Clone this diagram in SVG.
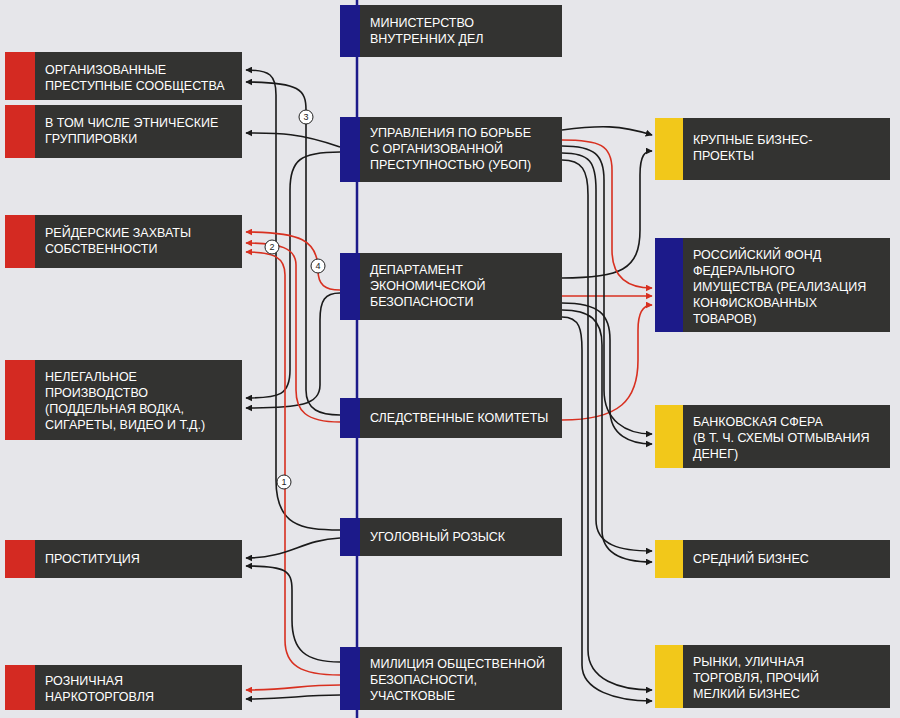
<svg xmlns="http://www.w3.org/2000/svg" width="900" height="718" viewBox="0 0 900 718">
<style>
.b{fill:#333331}.rs{fill:#d42a22}.bs{fill:#1c1a8a}.ys{fill:#f2c81a}
text{font-family:"Liberation Sans",Arial,sans-serif;font-size:12.5px;fill:#fff}
.k{fill:none;stroke:#1a1a1a;stroke-width:1.6}.r{fill:none;stroke:#d83020;stroke-width:1.6}
.c circle{fill:#fff;stroke:#222;stroke-width:1}.c text{fill:#222;font-size:9px;text-anchor:middle}
</style>
<defs>
<marker id="ak" viewBox="0 0 10 10" refX="9" refY="5" markerWidth="7" markerHeight="7" orient="auto-start-reverse" markerUnits="userSpaceOnUse"><path d="M0,0L10,5L0,10z" fill="#1a1a1a"/></marker>
<marker id="ar" viewBox="0 0 10 10" refX="9" refY="5" markerWidth="7" markerHeight="7" orient="auto-start-reverse" markerUnits="userSpaceOnUse"><path d="M0,0L10,5L0,10z" fill="#d83020"/></marker>
</defs>
<rect width="900" height="718" fill="#e6e6ea"/>
<line x1="357" y1="0" x2="357" y2="718" stroke="#1c1a8a" stroke-width="2.5"/>
<g id="connectors">
<path class="k" marker-end="url(#ak)" d="M340,530 C300,530 276,525 276,480 L276,95 C276,75 270,70 246,70"/>
<path class="k" marker-end="url(#ak)" d="M340,415 C320,415 306,410 306,390 L306,110 C306,90 300,82 246,82"/>
<path class="k" marker-end="url(#ak)" d="M340,147 C300,133 280,133 246,133"/>
<path class="k" marker-end="url(#ak)" d="M340,152 C300,152 290,160 290,190 L290,370 C290,395 280,398 246,398"/>
<path class="k" marker-end="url(#ak)" d="M340,293 C325,293 320,300 320,320 L320,385 C320,405 300,408 246,408"/>
<path class="r" marker-end="url(#ar)" d="M340,290 C325,290 318,285 318,270 C318,240 300,232 246,232"/>
<path class="r" marker-end="url(#ar)" d="M340,422 C305,422 296,410 296,390 L296,265 C296,248 280,243 246,243"/>
<path class="r" marker-end="url(#ar)" d="M340,675 C300,675 285,665 285,640 L285,275 C285,258 275,252 246,252"/>
<path class="k" marker-end="url(#ak)" d="M340,538 C300,540 290,558 246,558"/>
<path class="k" marker-end="url(#ak)" d="M340,662 C305,662 292,650 292,620 L292,590 C292,570 285,566 246,566"/>
<path class="r" marker-end="url(#ar)" d="M340,685 C300,685 290,690 246,690"/>
<path class="k" marker-end="url(#ak)" d="M340,695 C300,695 290,699 246,699"/>
<path class="k" marker-end="url(#ak)" d="M562,130 C600,125 620,125 652,135"/>
<path class="k" marker-end="url(#ak)" d="M562,278 C620,278 640,270 640,230 L640,175 C640,155 645,151 652,151"/>
<path class="r" marker-end="url(#ar)" d="M562,140 C600,140 612,145 612,170 L612,250 C612,280 630,288 652,288"/>
<path class="r" marker-end="url(#ar)" d="M562,296 L652,296"/>
<path class="r" marker-end="url(#ar)" d="M562,420 C620,420 638,400 638,360 L638,330 C638,310 645,305 652,305"/>
<path class="k" marker-end="url(#ak)" d="M562,146 C595,146 604,155 604,180 L604,390 C604,420 625,434 652,434"/>
<path class="k" marker-end="url(#ak)" d="M562,153 C590,153 596,162 596,190 L596,520 C596,545 620,551 652,551"/>
<path class="k" marker-end="url(#ak)" d="M562,160 C582,160 588,170 588,195 L588,650 C588,680 620,690 652,690"/>
<path class="k" marker-end="url(#ak)" d="M562,303 C600,303 610,315 610,340 L610,410 C610,435 630,444 652,444"/>
<path class="k" marker-end="url(#ak)" d="M562,310 C590,310 602,320 602,345 L602,530 C602,555 625,562 652,562"/>
<path class="k" marker-end="url(#ak)" d="M562,317 C580,317 582,330 582,350 L582,665 C582,690 615,701 652,701"/>
</g>
<g class="c">
<circle cx="284" cy="482" r="7"/><text x="284" y="485">1</text>
<circle cx="272" cy="247" r="7"/><text x="272" y="250">2</text>
<circle cx="306" cy="117" r="7"/><text x="306" y="120">3</text>
<circle cx="318" cy="266" r="7"/><text x="318" y="269">4</text>
</g>
<g id="mvd"><rect class="b" x="340" y="5" width="222" height="52"/><rect class="bs" x="340" y="5" width="20" height="52"/><text x="370" y="27">МИНИСТЕРСТВО</text><text x="370" y="43">ВНУТРЕННИХ ДЕЛ</text></g>
<g id="ubop"><rect class="b" x="340" y="117" width="222" height="65"/><rect class="bs" x="340" y="117" width="20" height="65"/><text x="370" y="137">УПРАВЛЕНИЯ ПО БОРЬБЕ</text><text x="370" y="153">С ОРГАНИЗОВАННОЙ</text><text x="370" y="169">ПРЕСТУПНОСТЬЮ (УБОП)</text></g>
<g id="deb"><rect class="b" x="340" y="253" width="222" height="67"/><rect class="bs" x="340" y="253" width="20" height="67"/><text x="370" y="274">ДЕПАРТАМЕНТ</text><text x="370" y="290">ЭКОНОМИЧЕСКОЙ</text><text x="370" y="306">БЕЗОПАСНОСТИ</text></g>
<g id="sk"><rect class="b" x="340" y="398" width="222" height="40"/><rect class="bs" x="340" y="398" width="20" height="40"/><text x="370" y="422">СЛЕДСТВЕННЫЕ КОМИТЕТЫ</text></g>
<g id="ur"><rect class="b" x="340" y="518" width="222" height="38"/><rect class="bs" x="340" y="518" width="20" height="38"/><text x="370" y="541">УГОЛОВНЫЙ РОЗЫСК</text></g>
<g id="mob"><rect class="b" x="340" y="647" width="222" height="63"/><rect class="bs" x="340" y="647" width="20" height="63"/><text x="370" y="668">МИЛИЦИЯ ОБЩЕСТВЕННОЙ</text><text x="370" y="684">БЕЗОПАСНОСТИ,</text><text x="370" y="700">УЧАСТКОВЫЕ</text></g>
<g id="ops"><rect class="b" x="5" y="52" width="237" height="48"/><rect class="rs" x="5" y="52" width="30" height="48"/><text x="45" y="74">ОРГАНИЗОВАННЫЕ</text><text x="45" y="90">ПРЕСТУПНЫЕ СООБЩЕСТВА</text></g>
<g id="etn"><rect class="b" x="5" y="105" width="237" height="53"/><rect class="rs" x="5" y="105" width="30" height="53"/><text x="45" y="127">В ТОМ ЧИСЛЕ ЭТНИЧЕСКИЕ</text><text x="45" y="143">ГРУППИРОВКИ</text></g>
<g id="raid"><rect class="b" x="5" y="215" width="237" height="53"/><rect class="rs" x="5" y="215" width="30" height="53"/><text x="45" y="237">РЕЙДЕРСКИЕ ЗАХВАТЫ</text><text x="45" y="253">СОБСТВЕННОСТИ</text></g>
<g id="neleg"><rect class="b" x="5" y="360" width="237" height="80"/><rect class="rs" x="5" y="360" width="30" height="80"/><text x="45" y="381">НЕЛЕГАЛЬНОЕ</text><text x="45" y="397">ПРОИЗВОДСТВО</text><text x="45" y="413">(ПОДДЕЛЬНАЯ ВОДКА,</text><text x="45" y="429">СИГАРЕТЫ, ВИДЕО И Т.Д.)</text></g>
<g id="prost"><rect class="b" x="5" y="540" width="237" height="38"/><rect class="rs" x="5" y="540" width="30" height="38"/><text x="45" y="563">ПРОСТИТУЦИЯ</text></g>
<g id="narko"><rect class="b" x="5" y="665" width="237" height="45"/><rect class="rs" x="5" y="665" width="30" height="45"/><text x="45" y="685">РОЗНИЧНАЯ</text><text x="45" y="701">НАРКОТОРГОВЛЯ</text></g>
<g id="krup"><rect class="b" x="655" y="118" width="235" height="62"/><rect class="ys" x="655" y="118" width="28" height="62"/><text x="693" y="144">КРУПНЫЕ БИЗНЕС-</text><text x="693" y="160">ПРОЕКТЫ</text></g>
<g id="fond"><rect class="b" x="655" y="238" width="235" height="94"/><rect class="bs" x="655" y="238" width="28" height="94"/><text x="693" y="259">РОССИЙСКИЙ ФОНД</text><text x="693" y="275">ФЕДЕРАЛЬНОГО</text><text x="693" y="291">ИМУЩЕСТВА (РЕАЛИЗАЦИЯ</text><text x="693" y="307">КОНФИСКОВАННЫХ</text><text x="693" y="323">ТОВАРОВ)</text></g>
<g id="bank"><rect class="b" x="655" y="405" width="235" height="63"/><rect class="ys" x="655" y="405" width="28" height="63"/><text x="693" y="426">БАНКОВСКАЯ СФЕРА</text><text x="693" y="442">(В Т. Ч. СХЕМЫ ОТМЫВАНИЯ</text><text x="693" y="458">ДЕНЕГ)</text></g>
<g id="sred"><rect class="b" x="655" y="540" width="235" height="38"/><rect class="ys" x="655" y="540" width="28" height="38"/><text x="693" y="563">СРЕДНИЙ БИЗНЕС</text></g>
<g id="rynki"><rect class="b" x="655" y="645" width="235" height="63"/><rect class="ys" x="655" y="645" width="28" height="63"/><text x="693" y="666">РЫНКИ, УЛИЧНАЯ</text><text x="693" y="682">ТОРГОВЛЯ, ПРОЧИЙ</text><text x="693" y="698">МЕЛКИЙ БИЗНЕС</text></g>
</svg>
